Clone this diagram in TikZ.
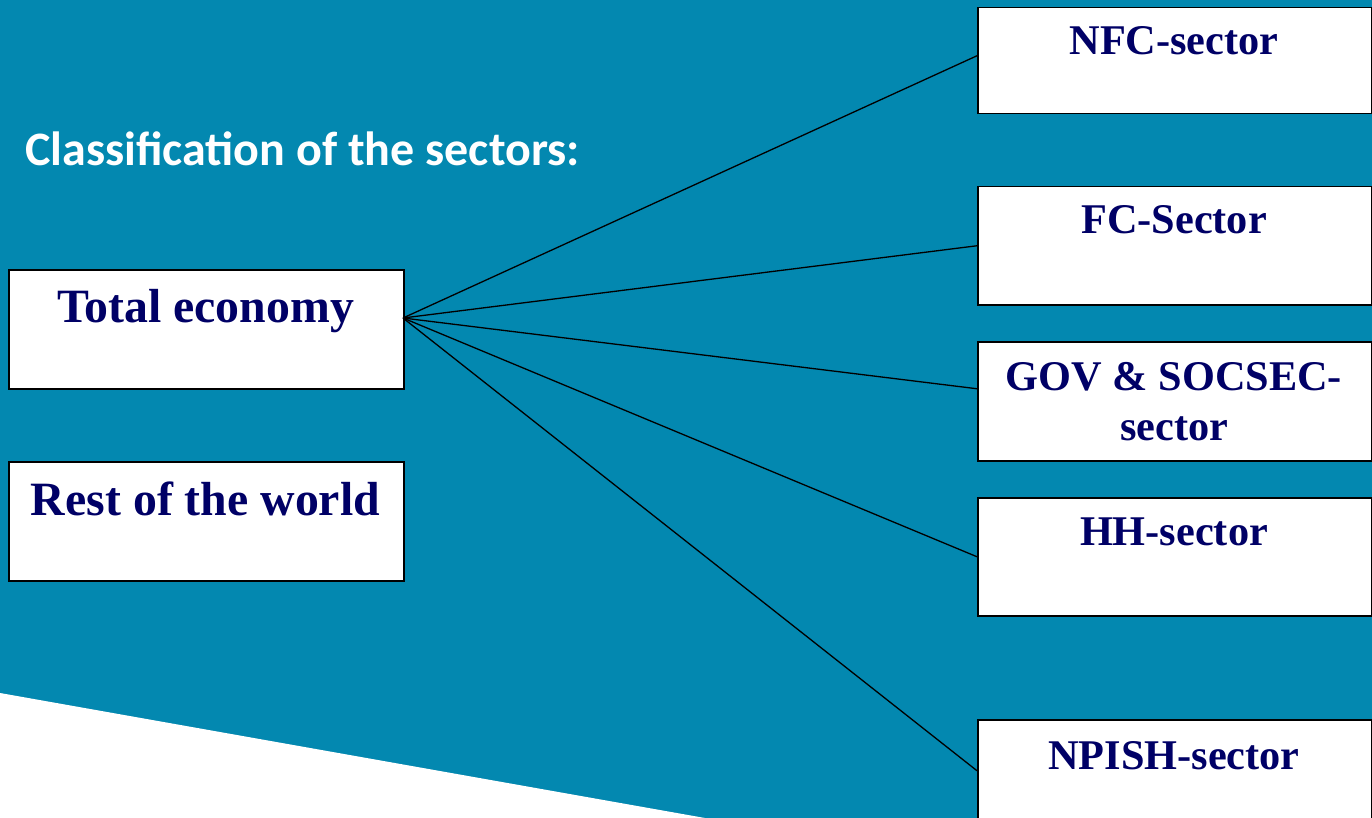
\documentclass[tikz,border=0pt]{standalone}
\usepackage{fontspec}
\setmainfont{Liberation Serif}
\newfontfamily\headfont{Carlito}
\definecolor{bgblue}{RGB}{3,136,176}
\definecolor{navy}{RGB}{0,0,102}
\begin{document}
\begin{tikzpicture}[x=1pt,y=-1pt,
  box/.style={draw=black,line width=1.5pt,fill=white,inner sep=0pt,anchor=north west},
  lbl/.style={font=\bfseries\fontsize{42.3}{50}\selectfont,text=navy,anchor=base,inner sep=0pt},
  biglbl/.style={font=\bfseries\fontsize{47.8}{56}\selectfont,text=navy,anchor=base,inner sep=0pt},
  headtxt/.style={font=\headfont\bfseries\fontsize{48}{56}\selectfont,text=white,anchor=base west,inner sep=0pt},
  link/.style={draw=black,line width=1.3pt}]
\useasboundingbox (0,0) rectangle (1372,818);
\fill[bgblue] (0,0) rectangle (1372,818);
\fill[white] (0,693) -- (705,818) -- (0,818) -- cycle;

\node[headtxt] (head) at (25,166) {Classification of the sectors:};

% left boxes
\node[box,minimum width=395pt,minimum height=119pt] (te) at (8,269) {};
\node[box,minimum width=395pt,minimum height=119pt] (row) at (8,461) {};
\node[biglbl] (tet) at (205.5,322) {Total economy};
\node[biglbl] (rowt) at (205.5,515) {Rest of the world};

% right boxes
\node[box,minimum width=394pt,minimum height=106pt] (nfc) at (977,7) {};
\node[box,minimum width=394pt,minimum height=118pt] (fc) at (977,186) {};
\node[box,minimum width=394pt,minimum height=119pt] (gov) at (977,341) {};
\node[box,minimum width=394pt,minimum height=118pt] (hh) at (977,497) {};
\node[box,minimum width=394pt,minimum height=119pt] (npish) at (977,719) {};

\node[lbl] (nfct) at (1174,55) {NFC-sector};
\node[lbl] (fct) at (1174,234) {FC-Sector};
\node[lbl] (govt1) at (1174,390) {GOV \& SOCSEC-};
\node[lbl] (govt2) at (1174,440) {sector};
\node[lbl] (hht) at (1174,545) {HH-sector};
\node[lbl] (npisht) at (1174,769) {NPISH-sector};

% connectors
\coordinate (hub) at (403,318);
\draw[link] (hub) -- ([yshift=5pt]nfc.west);
\draw[link] (hub) -- (fc.west);
\draw[link] (hub) -- ([yshift=12.5pt]gov.west);
\draw[link] (hub) -- (hh.west);
\draw[link] (hub) -- ([yshift=8.5pt]npish.west);
\end{tikzpicture}
\end{document}
